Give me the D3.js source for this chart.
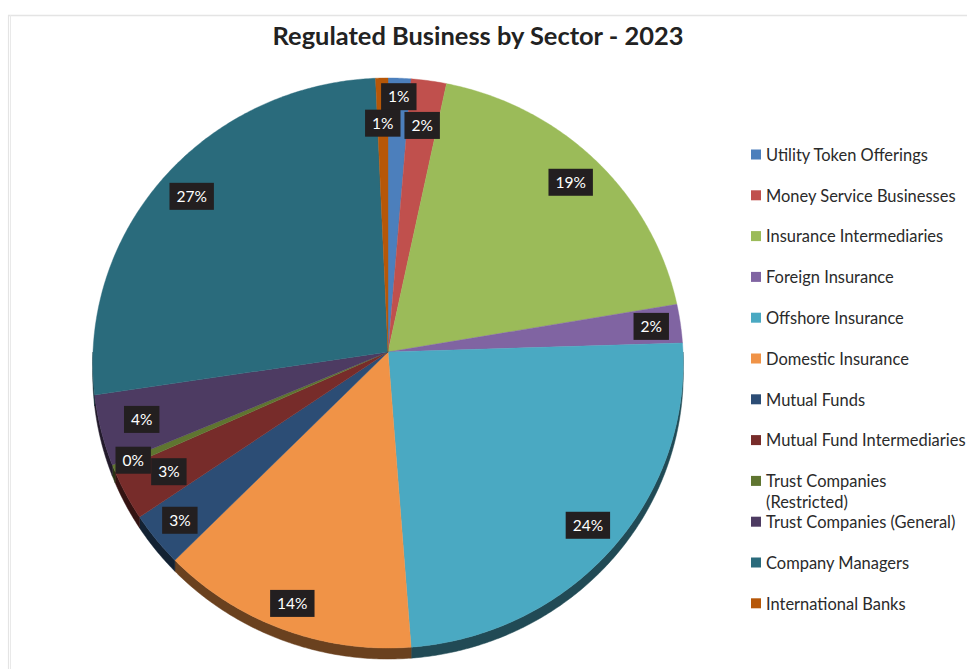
<!DOCTYPE html>
<html>
<head>
<meta charset="utf-8">
<script src="https://cdn.jsdelivr.net/npm/d3@7"></script>
<style>
  html, body { margin: 0; padding: 0; background: #ffffff; overflow: hidden; }
  svg { display: block; }
  text { font-family: Lato, "Open Sans", "Liberation Sans", sans-serif; }
</style>
</head>
<body>
<svg id="chart" width="967" height="669"></svg>
<script>
// Regulated business by sector, 2023 (share of total, %)
const title = "Regulated Business by Sector - 2023";
const sectors = [
  "Utility Token Offerings",
  "Money Service Businesses",
  "Insurance Intermediaries",
  "Foreign Insurance",
  "Offshore Insurance",
  "Domestic Insurance",
  "Mutual Funds",
  "Mutual Fund Intermediaries",
  "Trust Companies (Restricted)",
  "Trust Companies (General)",
  "Company Managers",
  "International Banks"
];
const shares = [1.3, 2.0, 19.0, 2.2, 24.3, 13.6, 3.0, 2.8, 0.4, 4.0, 26.7, 0.7];
// legend lines (long names wrap)
const legendLines = [
  ["Utility Token Offerings"],
  ["Money Service Businesses"],
  ["Insurance Intermediaries"],
  ["Foreign Insurance"],
  ["Offshore Insurance"],
  ["Domestic Insurance"],
  ["Mutual Funds"],
  ["Mutual Fund Intermediaries"],
  ["Trust Companies", "(Restricted)"],
  ["Trust Companies (General)"],
  ["Company Managers"],
  ["International Banks"]
];

// styling
const colors = ["#4c7fbc", "#c0504d", "#9bbb59", "#8064a2", "#4aa9c2", "#f09347",
                "#2c4d75", "#772c2a", "#5f7530", "#4d3b62", "#2a6b7c", "#b65708"];
// radial position of each data label (fraction of radius)
const labelRadius = [0.93, 0.83, 0.88, 0.90, 0.89, 0.91, 0.90, 0.84, 0.93, 0.86, 0.88, 0.83];

const svg = d3.select("#chart");

// chart frame
svg.append("line").attr("x1", 8).attr("x2", 967).attr("y1", 15.5).attr("y2", 15.5)
  .attr("stroke", "#e4e4e4").attr("stroke-width", 1.5);
svg.append("line").attr("x1", 8.5).attr("x2", 8.5).attr("y1", 15).attr("y2", 669)
  .attr("stroke", "#e4e4e4").attr("stroke-width", 1.2);
svg.append("line").attr("x1", 10.5).attr("x2", 10.5).attr("y1", 15).attr("y2", 669)
  .attr("stroke", "#e9e9e9").attr("stroke-width", 1);

// title
const titleText = svg.append("text")
  .attr("x", 478).attr("y", 45)
  .attr("text-anchor", "middle")
  .attr("font-weight", "bold")
  .attr("font-size", 22)
  .attr("fill", "#222222")
  .text(title);
{
  const w = titleText.node().getComputedTextLength();
  titleText.attr("font-size", 22 * 411 / w);
}

// tilted pie projection
const cx = 388, cy = 352, R = 295, A = 284.6, k = 0.0386, depth = 11;
function proj(theta, r, dz) {
  const u = r * Math.sin(theta), v = -r * Math.cos(theta);
  const s = 1 / (1 - k * v);
  return [cx + R * u * s, cy + A * v * s + (dz || 0)];
}
function arcPoints(a0, a1, r, dz) {
  const n = Math.max(2, Math.ceil((a1 - a0) / (Math.PI / 360)));
  return d3.range(n + 1).map(i => proj(a0 + (a1 - a0) * i / n, r, dz));
}

const pie = d3.pie().sort(null).value(d => d)(shares);
const line = d3.line();

// side walls (visible on the near half)
const gSide = svg.append("g");
pie.forEach((p, i) => {
  const b0 = Math.max(p.startAngle, Math.PI / 2);
  const b1 = Math.min(p.endAngle, 3 * Math.PI / 2);
  if (b1 <= b0) return;
  const top = arcPoints(b0, b1, 1, 0);
  const bottom = arcPoints(b0, b1, 1, depth).reverse();
  const c = d3.rgb(colors[i]);
  const f = 0.44;
  const dark = d3.rgb(c.r * f, c.g * f, c.b * f);
  gSide.append("path")
    .attr("d", line(top.concat(bottom)) + "Z")
    .attr("fill", dark)
    .attr("stroke", dark)
    .attr("stroke-width", 0.5);
});

// top faces
const gTop = svg.append("g");
pie.forEach((p, i) => {
  const pts = [proj(0, 0)].concat(arcPoints(p.startAngle, p.endAngle, 1, 0));
  gTop.append("path")
    .attr("d", line(pts) + "Z")
    .attr("fill", colors[i])
    .attr("stroke", colors[i])
    .attr("stroke-width", 0.4);
});

// data labels
const total = d3.sum(shares);
const gLab = svg.append("g");
pie.forEach((p, i) => {
  const mid = (p.startAngle + p.endAngle) / 2;
  const [x, y] = proj(mid, labelRadius[i], 0);
  const txt = Math.round(shares[i] / total * 100) + "%";
  const g = gLab.append("g").attr("transform", `translate(${x},${y})`);
  const t = g.append("text")
    .attr("text-anchor", "middle")
    .attr("dy", "0.36em")
    .attr("font-size", 15.5)
    .attr("fill", "#ffffff")
    .text(txt);
  const w = t.node().getComputedTextLength();
  g.insert("rect", "text")
    .attr("x", -w / 2 - 7).attr("y", -13.5)
    .attr("width", w + 14).attr("height", 27)
    .attr("fill", "#231f20");
});

// legend
const gLeg = svg.append("g");
let legendSize = 15;
legendLines.forEach((lines, i) => {
  const y = 155 + i * 40.8;
  gLeg.append("rect")
    .attr("x", 751).attr("y", y - 5.5)
    .attr("width", 10).attr("height", 10)
    .attr("fill", colors[i]);
  const t = gLeg.append("text")
    .attr("class", "legend-label")
    .attr("x", 766).attr("y", y)
    .attr("font-size", legendSize)
    .attr("fill", "#2a2a2a");
  lines.forEach((s, j) => {
    t.append("tspan").attr("x", 766).attr("dy", j === 0 ? "0.35em" : 21).text(s);
  });
});
// size legend text so the first entry spans its usual width
{
  const first = gLeg.select("text.legend-label").node().getComputedTextLength();
  legendSize = 15 * 162 / first;
  gLeg.selectAll("text.legend-label").attr("font-size", legendSize);
}
</script>
</body>
</html>
